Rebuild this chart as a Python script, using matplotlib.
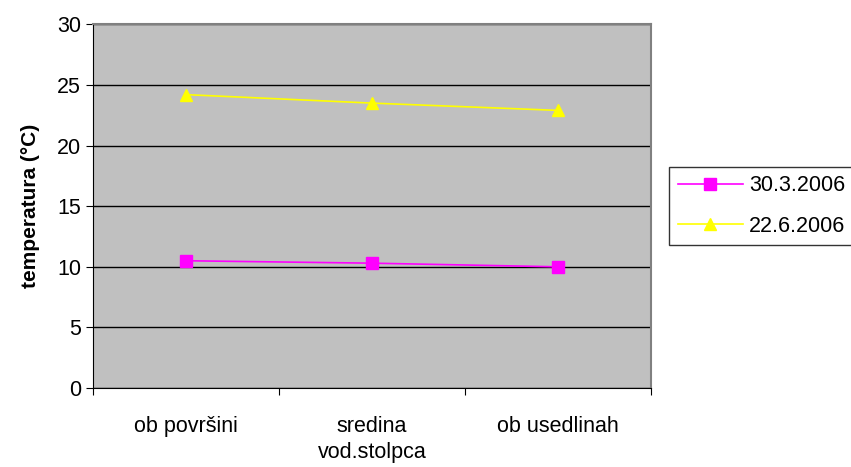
import numpy as np
import matplotlib.pyplot as plt

categories = ['ob površini', 'sredina\nvod.stolpca', 'ob usedlinah']
t_march = [10.5, 10.3, 10.0]
t_june = [24.2, 23.5, 22.9]
labels = ['30.3.2006', '22.6.2006']

plt.rcParams['font.family'] = ['Liberation Sans', 'DejaVu Sans']

fig = plt.figure(figsize=(8.51, 4.67), dpi=100)
ax = fig.add_axes([0.109, 0.169, 0.656, 0.779])
ax.set_facecolor('#C0C0C0')

x = np.arange(1, len(categories) + 1)
ax.plot(x, t_march, color='#FF00FF', marker='s', markersize=8, linewidth=1.2, label=labels[0])
ax.plot(x, t_june, color='#FFFF00', marker='^', markersize=9, linewidth=1.2, label=labels[1])

ax.set_xlim(0.5, len(categories) + 0.5)
ax.set_ylim(0, 30)
ax.set_yticks(np.arange(0, 31, 5))
ax.yaxis.grid(True, color='black', linewidth=1)
ax.set_axisbelow(True)

ax.set_xticks(np.arange(0.5, len(categories) + 1, 1))
ax.set_xticklabels([])
ax.set_xticks(x, minor=True)
ax.set_xticklabels(categories, minor=True, fontsize=15.5, linespacing=1.35)
ax.tick_params(axis='x', which='minor', length=0, pad=20)
ax.tick_params(axis='both', which='major', direction='out', length=5, labelsize=15.5, color='black')

ax.spines['top'].set_color('#808080')
ax.spines['right'].set_color('#808080')
ax.spines['top'].set_linewidth(1.5)
ax.spines['right'].set_linewidth(1.5)
ax.spines['left'].set_color('black')
ax.spines['bottom'].set_color('black')

ax.set_ylabel('temperatura (°C)', fontsize=15, fontweight='bold', labelpad=12)

leg = ax.legend(loc='center left', bbox_to_anchor=(1.033, 0.5), frameon=True, fancybox=False,
                edgecolor='black', fontsize=15.5, handlelength=3, borderpad=0.4,
                labelspacing=0.9, handletextpad=0.3, borderaxespad=0)
leg.get_frame().set_linewidth(1)

fig.savefig('out.png', dpi=100)
